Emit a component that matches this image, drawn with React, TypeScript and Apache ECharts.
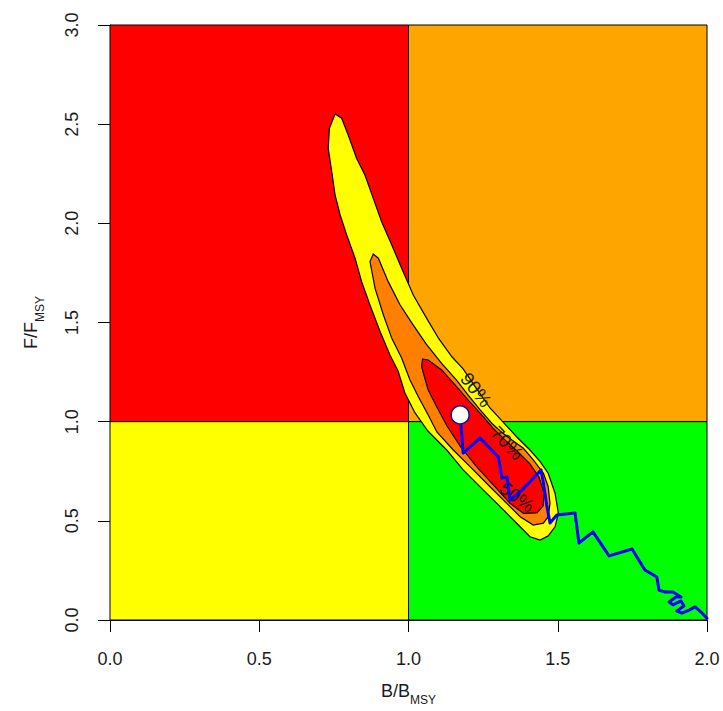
import React, { useEffect, useRef } from "react";
import * as echarts from "echarts";

// Kobe quadrants: [B0, F0, B1, F1]
const quadrantBounds: number[][] = [
  [0, 1, 1, 3],
  [1, 1, 2, 3],
  [0, 0, 1, 1],
  [1, 0, 2, 1],
];
const quadrantColors = ["#FF0000", "#FFA500", "#FFFF00", "#00FF00"];

const xTicksMax = 2;
const yTicksMax = 3;

// Probability contours [B/Bmsy, F/Fmsy]
const contour90: number[][] = [
  [0.754, 2.551], [0.776, 2.53], [0.798, 2.445], [0.826, 2.328], [0.854, 2.244], [0.882, 2.126],
  [0.91, 2.008], [0.944, 1.891], [0.977, 1.773], [1.016, 1.639], [1.061, 1.521], [1.102, 1.417],
  [1.146, 1.326], [1.183, 1.266], [1.226, 1.17], [1.273, 1.069], [1.317, 0.998], [1.362, 0.924],
  [1.407, 0.857], [1.441, 0.798], [1.468, 0.74], [1.491, 0.639], [1.502, 0.538], [1.491, 0.47],
  [1.468, 0.424], [1.441, 0.403], [1.407, 0.42], [1.374, 0.47], [1.318, 0.555], [1.251, 0.655],
  [1.184, 0.756], [1.128, 0.857], [1.065, 0.953], [1.022, 1.044], [0.988, 1.145], [0.965, 1.255],
  [0.938, 1.336], [0.905, 1.454], [0.871, 1.588], [0.843, 1.706], [0.821, 1.824], [0.793, 1.941],
  [0.771, 2.042], [0.754, 2.143], [0.743, 2.26], [0.731, 2.378], [0.735, 2.479],
];
const contour70: number[][] = [
  [0.882, 1.845], [0.899, 1.824], [0.932, 1.706], [0.972, 1.588], [1.016, 1.487], [1.059, 1.392],
  [1.111, 1.294], [1.161, 1.21], [1.2, 1.134], [1.24, 1.059], [1.279, 0.992], [1.307, 0.953],
  [1.337, 0.918], [1.385, 0.866], [1.418, 0.807], [1.452, 0.74], [1.468, 0.672], [1.474, 0.588],
  [1.468, 0.521], [1.452, 0.488], [1.418, 0.479], [1.374, 0.521], [1.329, 0.588], [1.273, 0.672],
  [1.206, 0.773], [1.15, 0.857], [1.095, 0.948], [1.066, 1.034], [1.033, 1.126], [1.005, 1.21],
  [0.977, 1.321], [0.944, 1.42], [0.916, 1.538], [0.888, 1.672], [0.871, 1.807],
];
const contour50: number[][] = [
  [1.047, 1.316], [1.066, 1.311], [1.111, 1.261], [1.156, 1.185], [1.2, 1.109], [1.245, 1.034],
  [1.283, 0.968], [1.323, 0.908], [1.367, 0.847], [1.407, 0.787], [1.437, 0.721], [1.454, 0.64],
  [1.451, 0.575], [1.43, 0.54], [1.385, 0.538], [1.34, 0.588], [1.284, 0.681], [1.228, 0.773],
  [1.173, 0.877], [1.129, 0.978], [1.094, 1.076], [1.066, 1.16], [1.05, 1.244], [1.044, 1.277],
];
const contourLevels = ["90%", "70%", "50%"];
const contourLabelPos: number[][] = [
  [1.226, 1.16],
  [1.33, 0.892],
  [1.363, 0.62],
];

// Stock trajectory (first year -> last year)
const trajectory: number[][] = [
  [2.0, 0.009], [1.98, 0.04], [1.96, 0.066], [1.94, 0.05], [1.916, 0.035], [1.899, 0.045],
  [1.923, 0.071], [1.913, 0.096], [1.886, 0.076], [1.873, 0.091], [1.896, 0.116], [1.913, 0.116],
  [1.886, 0.141], [1.859, 0.141], [1.839, 0.151], [1.832, 0.217], [1.792, 0.252], [1.749, 0.358],
  [1.672, 0.323], [1.618, 0.444], [1.571, 0.388], [1.558, 0.54], [1.497, 0.529], [1.474, 0.489],
  [1.463, 0.58], [1.452, 0.691], [1.444, 0.756], [1.38, 0.655], [1.34, 0.605], [1.33, 0.721],
  [1.313, 0.716], [1.301, 0.822], [1.24, 0.918], [1.183, 0.842], [1.173, 1.034],
];
const currentStatus: number[] = [1.173, 1.034];

// styles
const contourFills = ["#FFFF00", "#FF8000", "#FF0000"];
const labelAngles = [-52, -46, -36];
const FONT = "Liberation Sans, Arial, sans-serif";

export default function App() {
  const ref = useRef<HTMLDivElement>(null);
  useEffect(() => {
    document.body.style.margin = "0";
    if (!ref.current) return;
    const chart = echarts.init(ref.current, undefined, { renderer: "svg" });

    const polySeries = (poly: number[][], fill: string, z: number) => ({
      type: "custom",
      z,
      silent: true,
      data: [poly[0]],
      renderItem: (_p: any, api: any) => ({
        type: "polygon",
        shape: { points: poly.map((pt) => api.coord(pt)) },
        style: { fill, stroke: "#000", lineWidth: 1.2 },
      }),
    });

    const nameRich = {
      n: { fontSize: 18, fontFamily: FONT, color: "#1a1a1a", lineHeight: 24, verticalAlign: "bottom" },
      s: { fontSize: 12, fontFamily: FONT, color: "#1a1a1a", lineHeight: 24, verticalAlign: "bottom", padding: [0, 0, -6, 0] },
    };

    const option: any = {
      animation: false,
      grid: { left: 110, top: 25, width: 597, height: 595 },
      xAxis: {
        type: "value",
        min: 0,
        max: xTicksMax,
        interval: 0.5,
        splitLine: { show: false },
        axisLine: { show: true, onZero: false, lineStyle: { color: "#000", width: 1 } },
        axisTick: { show: true, length: 12, lineStyle: { color: "#000", width: 1 } },
        axisLabel: {
          formatter: (v: number) => v.toFixed(1),
          fontSize: 18,
          fontFamily: FONT,
          color: "#1a1a1a",
          margin: 30,
        },
        name: "{n|B/B}{s|MSY}",
        nameLocation: "middle",
        nameGap: 56,
        nameTextStyle: { rich: nameRich },
      },
      yAxis: {
        type: "value",
        min: 0,
        max: yTicksMax,
        interval: 0.5,
        splitLine: { show: false },
        axisLine: { show: true, onZero: false, lineStyle: { color: "#000", width: 1 } },
        axisTick: { show: true, length: 12, lineStyle: { color: "#000", width: 1 } },
        axisLabel: {
          formatter: (v: number) => v.toFixed(1),
          fontSize: 18,
          fontFamily: FONT,
          color: "#1a1a1a",
          rotate: 90,
          margin: 29,
        },
        name: "{n|F/F}{s|MSY}",
        nameLocation: "middle",
        nameGap: 70,
        nameTextStyle: { rich: nameRich },
      },
      series: [
        {
          type: "custom",
          z: 1,
          silent: true,
          data: quadrantBounds,
          renderItem: (p: any, api: any) => {
            const a = api.coord([api.value(0), api.value(1)]);
            const b = api.coord([api.value(2), api.value(3)]);
            return {
              type: "rect",
              shape: { x: a[0], y: b[1], width: b[0] - a[0], height: a[1] - b[1] },
              style: { fill: quadrantColors[p.dataIndex], stroke: "#000", lineWidth: 1 },
            };
          },
        },
        polySeries(contour90, contourFills[0], 2),
        polySeries(contour70, contourFills[1], 3),
        polySeries(contour50, contourFills[2], 4),
        {
          type: "custom",
          z: 5,
          silent: true,
          data: contourLabelPos.map((p, i) => [p[0], p[1], i]),
          renderItem: (p: any, api: any) => {
            const c = api.coord([api.value(0), api.value(1)]);
            const i = p.dataIndex;
            return {
              type: "text",
              x: c[0],
              y: c[1],
              rotation: (labelAngles[i] * Math.PI) / 180,
              style: {
                text: contourLevels[i],
                font: "19px " + FONT,
                fontSize: 19,
                fontFamily: FONT,
                fill: "#1a1a1a",
                align: "center",
                verticalAlign: "middle",
              },
            };
          },
        },
        {
          type: "line",
          z: 6,
          data: trajectory,
          showSymbol: false,
          symbol: "none",
          lineStyle: { color: "#0000FF", width: 3, cap: "round", join: "round" },
          silent: true,
        },
        {
          type: "scatter",
          z: 7,
          data: [currentStatus],
          symbol: "circle",
          symbolSize: 18,
          itemStyle: { color: "#FFFFFF", borderColor: "#10108a", borderWidth: 1.5, opacity: 1 },
          silent: true,
        },
      ],
    };
    chart.setOption(option);
    return () => chart.dispose();
  }, []);
  return <div ref={ref} style={{ width: 723, height: 711 }} />;
}
